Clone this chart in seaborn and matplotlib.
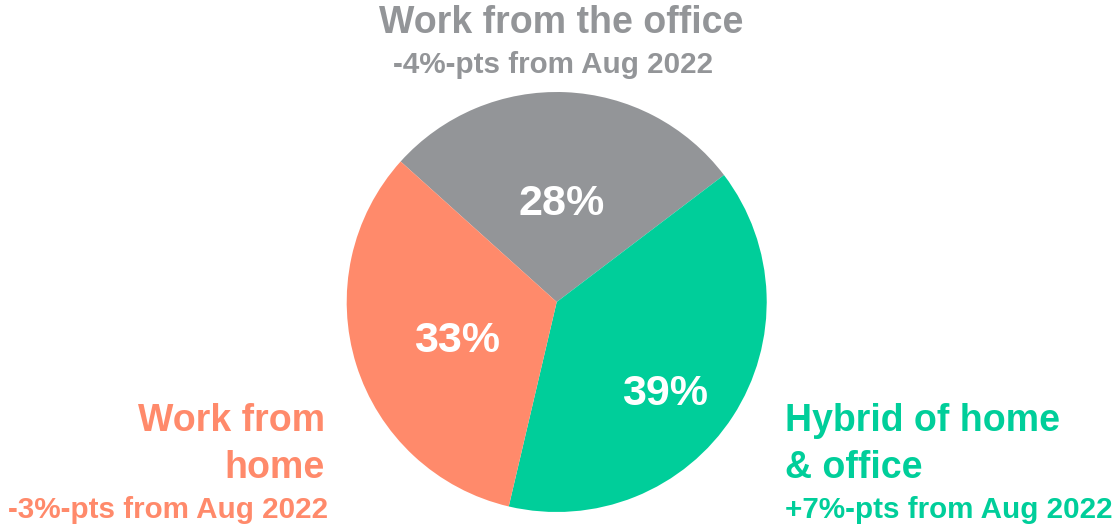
import numpy as np
import matplotlib
matplotlib.use("Agg")
import matplotlib.pyplot as plt
import seaborn as sns

# ---- data ----
categories = ["Work from the office", "Hybrid of home\n& office", "Work from\nhome"]
shares = [28, 39, 33]
pct_labels = ["28%", "39%", "33%"]
changes = ["-4%-pts from Aug 2022", "+7%-pts from Aug 2022", "-3%-pts from Aug 2022"]
colors = ["#939598", "#00CE9A", "#FF8A6B"]

sns.set_theme(style="white")
plt.rcParams["font.family"] = ["Liberation Sans", "DejaVu Sans"]

W, H = 1112, 530
fig = plt.figure(figsize=(W / 100, H / 100), dpi=100)
fig.patch.set_facecolor("white")

cx, cy, R = 556.7, 302, 210
ax = fig.add_axes([(cx - R) / W, (H - cy - R) / H, 2 * R / W, 2 * R / H])
wedges, _ = ax.pie(shares, colors=colors, startangle=138, counterclock=False,
                   radius=1, wedgeprops=dict(linewidth=0))
ax.set_xlim(-1, 1)
ax.set_ylim(-1, 1)
ax.set_aspect("equal")
ax.axis("off")

# percentage labels inside wedges
dists = [0.465, 0.678, 0.511]
ang_off = [-0.5, -7.5, 4.0]
for w, lab, d, a in zip(wedges, pct_labels, dists, ang_off):
    mid = np.deg2rad((w.theta1 + w.theta2) / 2 + a)
    ax.text(d * np.cos(mid), d * np.sin(mid), lab, ha="center", va="center",
            color="white", fontsize=31, fontweight="bold")


def ftext(x, y, s, **kw):
    fig.text(x / W, 1 - y / H, s, **kw)


big = 27
small = 21.3
# top: office
ftext(561, 33, categories[0], ha="center", va="baseline", color=colors[0],
      fontsize=big, fontweight="bold")
ftext(553.5, 73, changes[0], ha="center", va="baseline", color=colors[0],
      fontsize=small, fontweight="bold")
# right: hybrid
ftext(785, 478, categories[1], ha="left", va="baseline", color=colors[1],
      fontsize=big, fontweight="bold", linespacing=1.39, multialignment="left")
ftext(785, 518, changes[1], ha="left", va="baseline", color=colors[1],
      fontsize=small, fontweight="bold")
# left: home
ftext(325, 478, categories[2], ha="right", va="baseline", color=colors[2],
      fontsize=big, fontweight="bold", linespacing=1.39, multialignment="right")
ftext(328, 518, changes[2], ha="right", va="baseline", color=colors[2],
      fontsize=small, fontweight="bold")

fig.savefig("out.png", dpi=100, facecolor="white")
